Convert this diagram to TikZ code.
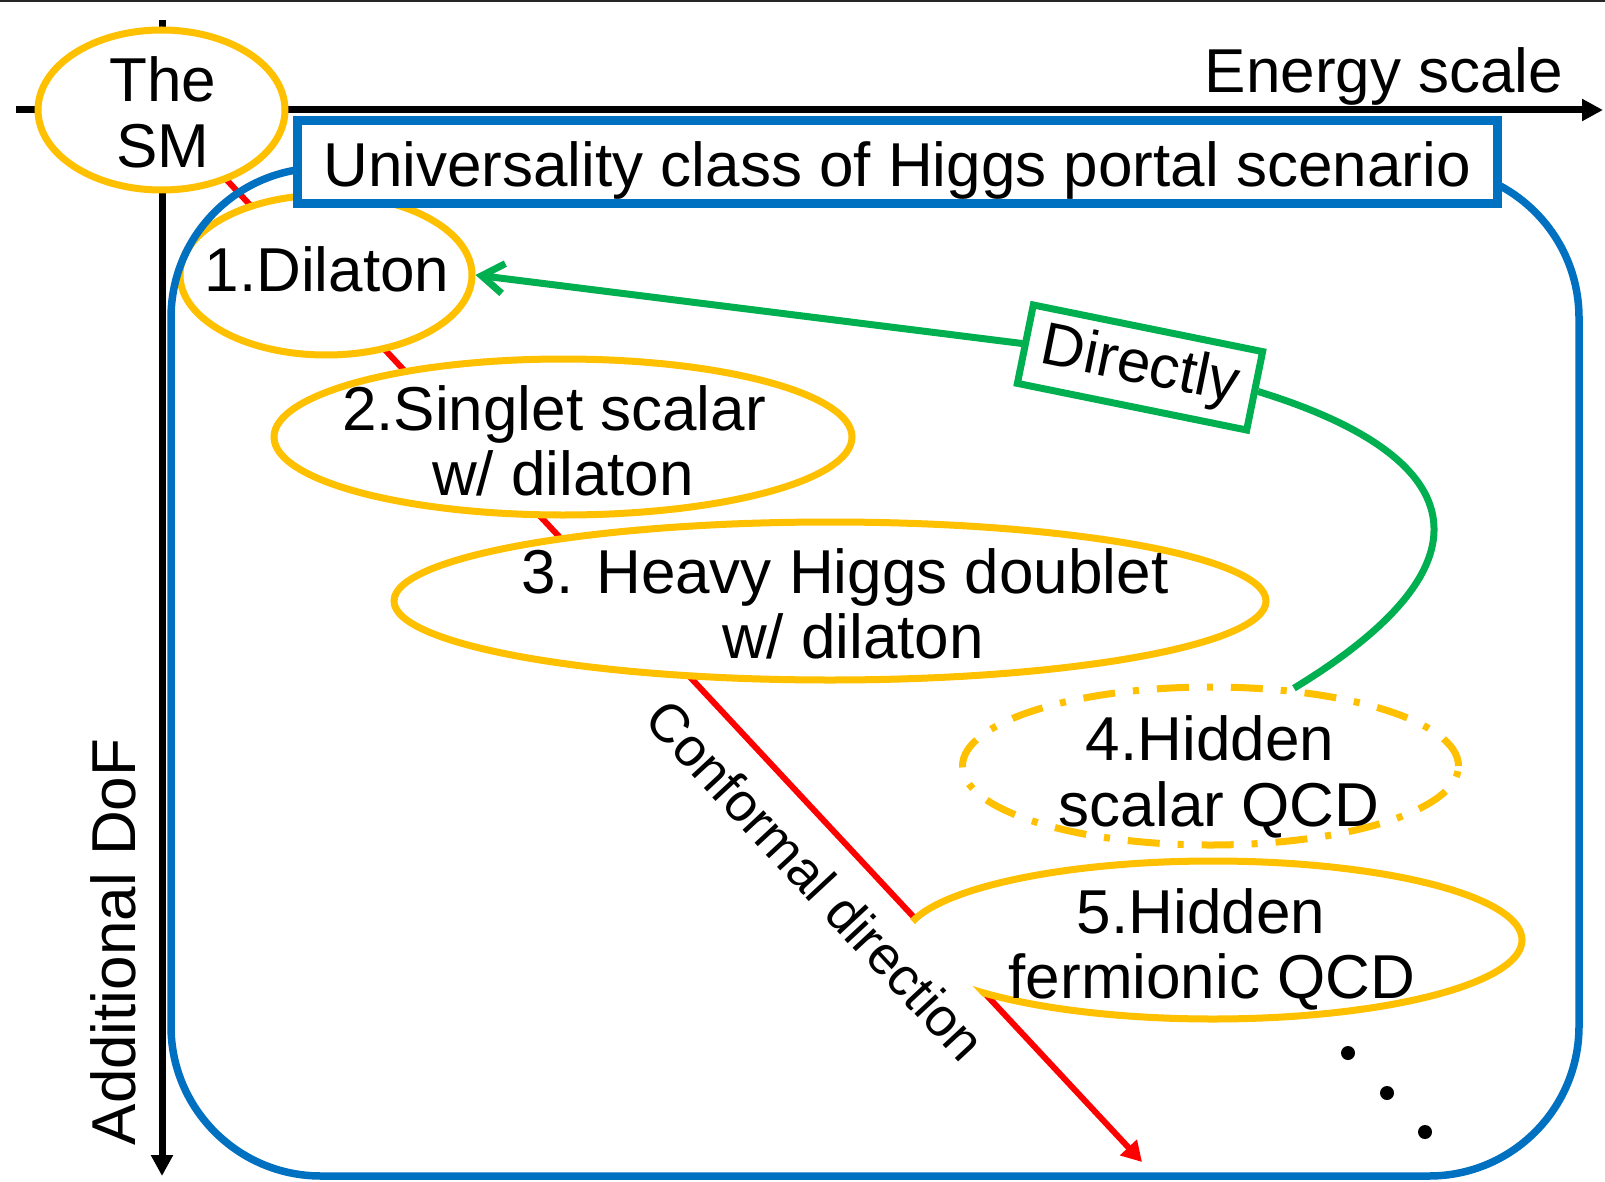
\documentclass[tikz,border=0pt]{standalone}
\usepackage{fontspec}
\setmainfont{Liberation Sans}
\usetikzlibrary{shapes.geometric,arrows.meta}
\definecolor{oyel}{HTML}{FFC000}
\definecolor{oblue}{HTML}{0070C0}
\definecolor{ogreen}{HTML}{00B050}
\definecolor{ored}{HTML}{FF0000}
\pgfdeclarelayer{bg}
\pgfsetlayers{bg,main}
\begin{document}
\begin{tikzpicture}[x=0.5pt,y=-0.5pt,
  ell/.style={ellipse, draw=oyel, line width=3.5pt, fill=white, inner sep=0pt},
  txt/.style={inner sep=0pt, anchor=base, font=\fontsize{31}{37}\selectfont},
  axis/.style={line width=3.5pt, -{Triangle[length=10.5pt,width=10.5pt]}},
  dot/.style={circle, fill=black, inner sep=0pt, minimum size=7pt},
]
\useasboundingbox (0,0) rectangle (1605,1182);

% ---- ellipses
\node[ell, minimum width=123.5pt, minimum height=80pt] (sm) at (161.5,110) {};
\node[ell, minimum width=146pt, minimum height=80pt] (dil) at (326,275) {};
\node[ell, minimum width=289pt, minimum height=78pt] (e2) at (563,437) {};
\node[ell, minimum width=436pt, minimum height=79pt] (e3) at (830,601) {};
\node[ell, dash pattern=on 16pt off 9pt on 3pt off 9pt, minimum width=248pt, minimum height=79pt] (e4) at (1210.5,766) {};
\coordinate (rt) at (1142,1162);
\begin{scope}
  \clip (158.6,112.7) -- (1181.6,1210.1) -- (1605,1210) -- (1605,0) -- cycle;
  \node[ell, minimum width=309pt, minimum height=79pt] (e5) at (1213,940) {};
\end{scope}

% ---- background: axes, red line
\begin{pgfonlayer}{bg}
  \fill[white] (0,0) rectangle (1605,1182);
  \draw[line width=1.2pt, black!85] (0,1) -- (1605,1);
  \coordinate (xs) at (16,110);
  \coordinate (xe) at (1603,110);
  \coordinate (ys) at (162,20);
  \coordinate (ye) at (162,1176);
  \draw[axis] (xs) -- (xe);
  \draw[axis] (ys) -- (ye);
  \draw[ored, line width=3pt, -{Triangle[length=10pt,width=11pt]}] (sm.center) -- (rt);
\end{pgfonlayer}

% ---- universality class frame
\node[draw=oblue, line width=3.75pt, rounded corners=75pt, minimum width=704pt, minimum height=504pt, inner sep=0pt] (univ) at (875,672) {};
\node[draw=oblue, line width=4.5pt, fill=white, minimum width=600pt, minimum height=41.5pt, inner sep=0pt, text height=24.5pt, text depth=0pt, font=\fontsize{31}{37}\selectfont] (title) at (897,162.5) {Universality class of Higgs portal scenario};

% ---- green connector
\node[draw=ogreen, line width=3.5pt, fill=white, rotate=-11.5, minimum width=117pt, minimum height=40pt, inner sep=0pt, font=\fontsize{30}{36}\selectfont] (dir) at (1140,367.5) {Directly};
\draw[ogreen, line width=3.5pt] (e4.43.6) .. controls (1505,560) and (1465,455) .. (dir.east);
\draw[ogreen, line width=3.5pt, line cap=round, line join=round, -{Straight Barb[length=11pt,width=15pt]}] (dir.west) -- (dil.east);

% ---- dots
\node[dot] (d1) at (1348,1053) {};
\node[dot] (d2) at (1387,1093) {};
\node[dot] (d3) at (1425,1132) {};

% ---- texts
\node[txt] (tthe) at (163,102) {The};
\node[txt] (tsm) at (163,168) {SM};
\node[txt] (tdil) at (327,292) {1.Dilaton};
\node[txt] (te2a) at (554,430) {2.Singlet scalar};
\node[txt] (te2b) at (563,495) {w/ dilaton};
\node[txt] (te3a) at (845,593) {3. Heavy Higgs doublet};
\node[txt] (te3b) at (853,658) {w/ dilaton};
\node[txt] (te4a) at (1210,760) {4.Hidden};
\node[txt] (te4b) at (1219,826) {scalar QCD};
\node[txt] (te5a) at (1201,933) {5.Hidden};
\node[txt] (te5b) at (1212,998) {fermionic QCD};
\node[txt] (energy) at (1384,93) {Energy scale};
\node[txt, rotate=90] (dof) at (135,942) {Additional DoF};
\node[inner sep=0pt, rotate=-47.1, font=\fontsize{27}{32}\selectfont] (conf) at (816,880) {Conformal direction};
\end{tikzpicture}
\end{document}
